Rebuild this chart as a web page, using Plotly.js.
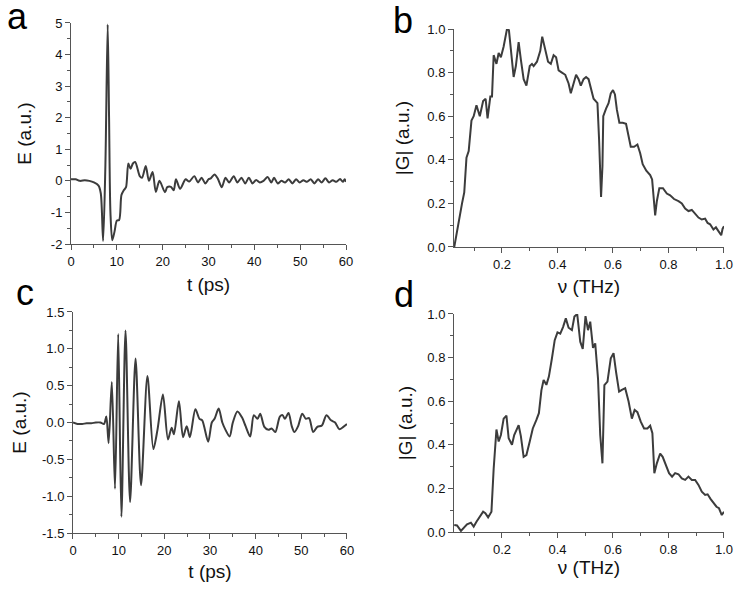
<!DOCTYPE html>
<html>
<head>
<meta charset="utf-8">
<script src="https://cdn.plot.ly/plotly-3.0.1.min.js"></script>
<style>html,body{margin:0;padding:0;background:#fff;}#chart{width:754px;height:591px;}</style>
</head>
<body>
<div id="chart"></div>
<script>
// Panel a: time-domain pulse
const tA = [0,1,2,3,4,5,6,6.5,7,7.5,8,8.3,8.6,9,9.5,10,10.5,11,11.5,12,12.5,13,13.5,14,15,15.5,16.3,17,17.8,18.5,19.3,20.5,21,21.8,22.4,22.9,23.8,25,25.8,26.9,27.7,28.5,29.3,30,30.5,31.3,32,32.9,33.7,34.5,35.5,36.3,37.2,38,38.8,39.6,40.4,41.2,42,42.9,43.7,44.3,45.1,45.9,46.7,47.5,48.3,49.1,49.9,50.7,51.5,52.3,53.1,53.9,54.7,55.5,56.3,57.1,57.9,58.7,59.3,59.7,60];
const eA = [0.05,0.05,0.0,0.02,0.0,-0.05,-0.15,-0.4,-1.9,0.5,4.95,2,-1,-1.88,-1.6,-1.26,-1.24,-0.45,-0.3,-0.2,0.55,0.38,0.55,0.6,0.15,0.1,0.47,0.0,0.28,-0.35,0.0,-0.36,-0.2,-0.19,-0.3,0.05,-0.25,0.05,-0.02,0.15,-0.05,0.1,-0.08,0.05,0.08,0.2,0.08,-0.2,0.1,-0.05,0.15,-0.05,0.1,-0.08,0.1,-0.08,0.03,-0.05,0.0,0.12,-0.05,0.1,-0.08,0.0,-0.05,0.05,-0.08,0.05,-0.05,0.02,-0.03,0.05,-0.08,0.05,-0.05,0.08,-0.05,0.02,-0.03,0.06,-0.03,0.05,-0.03];

// Panel b: spectrum of a
const nuB = [0.028,0.038,0.044,0.056,0.064,0.072,0.08,0.09,0.098,0.108,0.12,0.132,0.141,0.148,0.158,0.164,0.17,0.18,0.188,0.196,0.206,0.218,0.225,0.232,0.242,0.25,0.26,0.268,0.278,0.288,0.3,0.308,0.314,0.326,0.338,0.345,0.356,0.366,0.376,0.386,0.395,0.404,0.416,0.428,0.44,0.448,0.458,0.467,0.476,0.484,0.494,0.503,0.512,0.52,0.53,0.537,0.544,0.55,0.557,0.562,0.565,0.575,0.584,0.592,0.6,0.607,0.614,0.623,0.635,0.647,0.656,0.664,0.676,0.688,0.698,0.707,0.72,0.734,0.741,0.746,0.752,0.758,0.767,0.78,0.794,0.806,0.82,0.836,0.848,0.86,0.872,0.884,0.896,0.908,0.92,0.932,0.941,0.95,0.962,0.971,0.98,0.99,0.995,1.0];
const gB = [0.0,0.077,0.12,0.2,0.25,0.41,0.44,0.58,0.6,0.65,0.6,0.67,0.68,0.59,0.69,0.69,0.88,0.84,0.89,0.87,0.92,1.0,0.995,0.9,0.78,0.83,0.94,0.86,0.77,0.74,0.83,0.84,0.83,0.85,0.9,0.965,0.9,0.85,0.84,0.88,0.87,0.81,0.8,0.79,0.75,0.705,0.75,0.79,0.77,0.74,0.77,0.78,0.77,0.73,0.68,0.67,0.66,0.49,0.23,0.37,0.6,0.635,0.66,0.705,0.72,0.7,0.63,0.57,0.57,0.565,0.505,0.46,0.46,0.47,0.43,0.38,0.35,0.33,0.31,0.23,0.145,0.21,0.27,0.27,0.245,0.237,0.22,0.21,0.2,0.176,0.165,0.17,0.153,0.135,0.126,0.13,0.11,0.104,0.08,0.09,0.073,0.054,0.084,0.095];

// Panel c: time-domain pulse
const tC = [0,1,2,3,4,5,6,6.8,7.3,7.8,8.5,9.2,9.9,10.6,11.5,12.5,13.7,14.9,16.3,17.6,18.5,19.7,20.8,21.6,22.1,23.2,24.1,24.9,25.6,26.8,27.7,28.3,29.6,30.4,31.0,31.9,32.7,33.4,34.3,35.0,36.0,37.0,37.8,38.8,39.6,40.4,41.0,41.9,42.8,43.5,44.3,45.3,45.9,46.4,47.2,47.9,48.5,49.3,50.2,51.0,51.7,52.6,53.5,54.5,55.5,56.5,57.4,58.3,59.2,60];
const eC = [0.0,-0.02,-0.02,-0.01,-0.01,0.0,0.0,-0.02,0.08,-0.28,0.55,-0.9,1.2,-1.28,1.25,-1.08,0.87,-0.85,0.63,-0.36,-0.1,0.38,-0.23,-0.07,-0.16,0.29,-0.2,-0.05,-0.2,0.18,0.05,0.03,-0.26,0.0,0.05,0.19,0.0,-0.1,-0.19,0.0,0.15,0.07,-0.05,-0.19,0.1,0.05,0.12,-0.06,-0.1,-0.08,-0.13,0.08,0.1,0.05,0.13,-0.05,-0.13,-0.05,0.12,0.05,0.06,-0.13,-0.06,-0.04,0.1,0.03,0.0,-0.09,-0.06,-0.02];

// Panel d: spectrum of c
const nuD = [0.028,0.038,0.052,0.062,0.074,0.088,0.098,0.108,0.12,0.132,0.14,0.15,0.162,0.17,0.18,0.188,0.196,0.206,0.216,0.224,0.236,0.244,0.26,0.268,0.278,0.288,0.3,0.311,0.324,0.333,0.342,0.35,0.36,0.369,0.38,0.39,0.4,0.41,0.42,0.43,0.44,0.452,0.461,0.471,0.482,0.491,0.501,0.51,0.518,0.528,0.536,0.546,0.554,0.562,0.569,0.58,0.592,0.602,0.611,0.622,0.632,0.644,0.656,0.668,0.678,0.688,0.7,0.712,0.724,0.734,0.742,0.749,0.758,0.77,0.779,0.79,0.802,0.813,0.824,0.836,0.848,0.86,0.872,0.884,0.896,0.908,0.92,0.932,0.941,0.952,0.964,0.973,0.982,0.992,1.0];
const gD = [0.032,0.03,0.005,0.017,0.035,0.043,0.025,0.047,0.07,0.093,0.086,0.067,0.093,0.29,0.47,0.415,0.445,0.52,0.534,0.43,0.40,0.445,0.49,0.44,0.345,0.353,0.415,0.475,0.514,0.545,0.65,0.697,0.675,0.713,0.797,0.88,0.916,0.91,0.94,0.98,0.937,0.926,0.988,1.0,0.873,0.84,0.99,0.926,0.965,0.845,0.865,0.705,0.445,0.315,0.674,0.69,0.797,0.82,0.735,0.644,0.652,0.66,0.6,0.52,0.56,0.55,0.506,0.475,0.475,0.488,0.453,0.27,0.315,0.36,0.345,0.307,0.27,0.254,0.27,0.265,0.246,0.239,0.254,0.239,0.239,0.216,0.185,0.17,0.173,0.151,0.131,0.116,0.109,0.078,0.093];

// Tick labels
const tTickVals = [0,10,20,30,40,50,60];
const tTickText = ['0','10','20','30','40','50','60'];
const eATickVals = [-2,-1,0,1,2,3,4,5];
const eATickText = ['-2','-1','0','1','2','3','4','5'];
const eCTickVals = [-1.5,-1.0,-0.5,0,0.5,1.0,1.5];
const eCTickText = ['-1.5','-1.0','-0.5','0.0','0.5','1.0','1.5'];
const nuTickVals = [0.2,0.4,0.6,0.8,1.0];
const nuTickText = ['0.2','0.4','0.6','0.8','1.0'];
const gTickVals = [0,0.2,0.4,0.6,0.8,1.0];
const gTickText = ['0.0','0.2','0.4','0.6','0.8','1.0'];

const lineStyle = {color:'#3c3c3c', width:2};
const smoothLine = {color:'#3c3c3c', width:2, shape:'spline', smoothing:0.8};
const traces = [
  {x:tA, y:eA, xaxis:'x', yaxis:'y', mode:'lines', line:smoothLine},
  {x:nuB, y:gB, xaxis:'x2', yaxis:'y2', mode:'lines', line:lineStyle},
  {x:tC, y:eC, xaxis:'x3', yaxis:'y3', mode:'lines', line:smoothLine},
  {x:nuD, y:gD, xaxis:'x4', yaxis:'y4', mode:'lines', line:lineStyle}
];

const FONT = 'Liberation Sans, Arial, sans-serif';
function ax(domain, anchor, range, tv, tt, minorD, title, standoff) {
  return {
    domain: domain, anchor: anchor, range: range,
    showline: true, linecolor: '#555', linewidth: 1,
    mirror: false, showgrid: false, zeroline: false,
    ticks: 'outside', ticklen: 5, tickwidth: 1, tickcolor: '#555',
    tickmode: 'array', tickvals: tv, ticktext: tt,
    tickfont: {family: FONT, size: 13, color: '#111'},
    minor: {ticks: 'outside', ticklen: 3, tickwidth: 1, tickcolor: '#555', dtick: minorD, tick0: 0, showgrid: false},
    title: {text: title, standoff: standoff, font: {family: FONT, size: 19, color: '#111'}}
  };
}

const layout = {
  width: 754, height: 591,
  margin: {l:0, r:0, t:0, b:0},
  paper_bgcolor: '#fff', plot_bgcolor: '#fff',
  showlegend: false,
  xaxis:  ax([0.0942,0.4589], 'y',  [0,60], tTickVals, tTickText, 5, 't (ps)', 10),
  yaxis:  ax([0.5871,0.9611], 'x',  [-2,5], eATickVals, eATickText, 0.5, 'E (a.u.)', 14),
  xaxis2: ax([0.6021,0.9602], 'y2', [0.027,1.0], nuTickVals, nuTickText, 0.1, 'ν (THz)', 9),
  yaxis2: ax([0.5821,0.9509], 'x2', [0,1.0], gTickVals, gTickText, 0.1, '|G| (a.u.)', 12),
  xaxis3: ax([0.0968,0.4602], 'y3', [0,60], tTickVals, tTickText, 5, 't (ps)', 8),
  yaxis3: ax([0.0981,0.4721], 'x3', [-1.5,1.5], eCTickVals, eCTickText, 0.25, 'E (a.u.)', 10),
  xaxis4: ax([0.6021,0.9602], 'y4', [0.027,1.0], nuTickVals, nuTickText, 0.1, 'ν (THz)', 3),
  yaxis4: ax([0.0998,0.4687], 'x4', [0,1.0], gTickVals, gTickText, 0.1, '|G| (a.u.)', 9),
  annotations: [
    {text:'a', x:6/754, y:1-38/591, xref:'paper', yref:'paper', xanchor:'left', yanchor:'bottom', borderpad:0, showarrow:false, font:{family:FONT, size:36, color:'#000'}},
    {text:'b', x:392/754, y:1-42/591, xref:'paper', yref:'paper', xanchor:'left', yanchor:'bottom', borderpad:0, showarrow:false, font:{family:FONT, size:36, color:'#000'}},
    {text:'c', x:15/754, y:1-314/591, xref:'paper', yref:'paper', xanchor:'left', yanchor:'bottom', borderpad:0, showarrow:false, font:{family:FONT, size:36, color:'#000'}},
    {text:'d', x:393/754, y:1-316/591, xref:'paper', yref:'paper', xanchor:'left', yanchor:'bottom', borderpad:0, showarrow:false, font:{family:FONT, size:36, color:'#000'}}
  ]
};

Plotly.newPlot('chart', traces, layout, {staticPlot:true, displayModeBar:false});
</script>
</body>
</html>
